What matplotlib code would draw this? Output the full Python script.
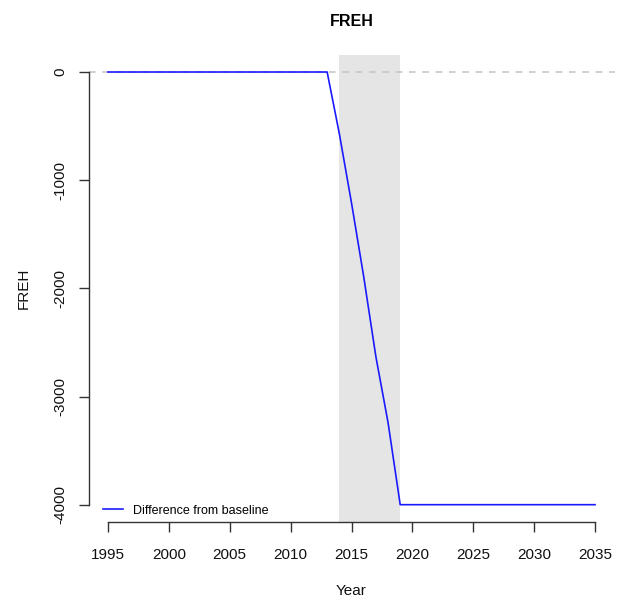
import numpy as np
import matplotlib
matplotlib.use("Agg")
import matplotlib.pyplot as plt

plt.rcParams['font.family'] = ['Liberation Sans', 'DejaVu Sans']

# data
years = list(range(1995, 2036))
diff = [0] * 19 + [-570, -1210, -1890, -2630, -3240, -4000] + [-4000] * 16
shade_years = [2014, 2019]
x_ticks = list(range(1995, 2040, 5))
y_ticks = [0, -1000, -2000, -3000, -4000]

fig = plt.figure(figsize=(6.21, 6.03), dpi=100)
ax = fig.add_axes([88.5 / 621, 81 / 603, 526 / 621, 467.3 / 603])

# R style 4% padding
ax.set_xlim(1995 - 0.04 * 40, 2035 + 0.04 * 40)
ax.set_ylim(-4000 - 0.04 * 4000, 0 + 0.04 * 4000)

ax.axvspan(shade_years[0], shade_years[1], color='#e5e5e5', lw=0, zorder=0)
ax.axhline(0, color='#c8c8c8', lw=1.2, ls=(0, (4, 4)), zorder=1)
ax.plot(years, diff, color='#1a1aff', lw=1.2, zorder=2, label='Difference from baseline')

for s in ['top', 'right']:
    ax.spines[s].set_visible(False)
ax.spines['left'].set_bounds(-4000, 0)
ax.spines['bottom'].set_bounds(1995, 2035)
for s in ['left', 'bottom']:
    ax.spines[s].set_color('#333333')
    ax.spines[s].set_linewidth(1.0)

ax.set_xticks(x_ticks)
ax.set_yticks(y_ticks)
ax.set_yticklabels([str(v) for v in y_ticks], rotation=90, va='center')
ax.tick_params(axis='both', length=7.5, width=1.0, color='#333333', labelsize=11, labelcolor='#111111')
ax.tick_params(axis='x', pad=11)
ax.tick_params(axis='y', pad=8)

ax.set_xlabel('Year', fontsize=11, labelpad=16, color='#111111')
ax.set_ylabel('FREH', fontsize=11, labelpad=16, color='#111111')
ax.set_title('FREH', fontsize=11.5, fontweight='bold', pad=21)

ax.legend(loc='lower left', frameon=False, fontsize=9, handlelength=1.6,
          handletextpad=0.8, borderaxespad=0.4, bbox_to_anchor=(0.008, -0.01))

fig.savefig('out.png', dpi=100)
